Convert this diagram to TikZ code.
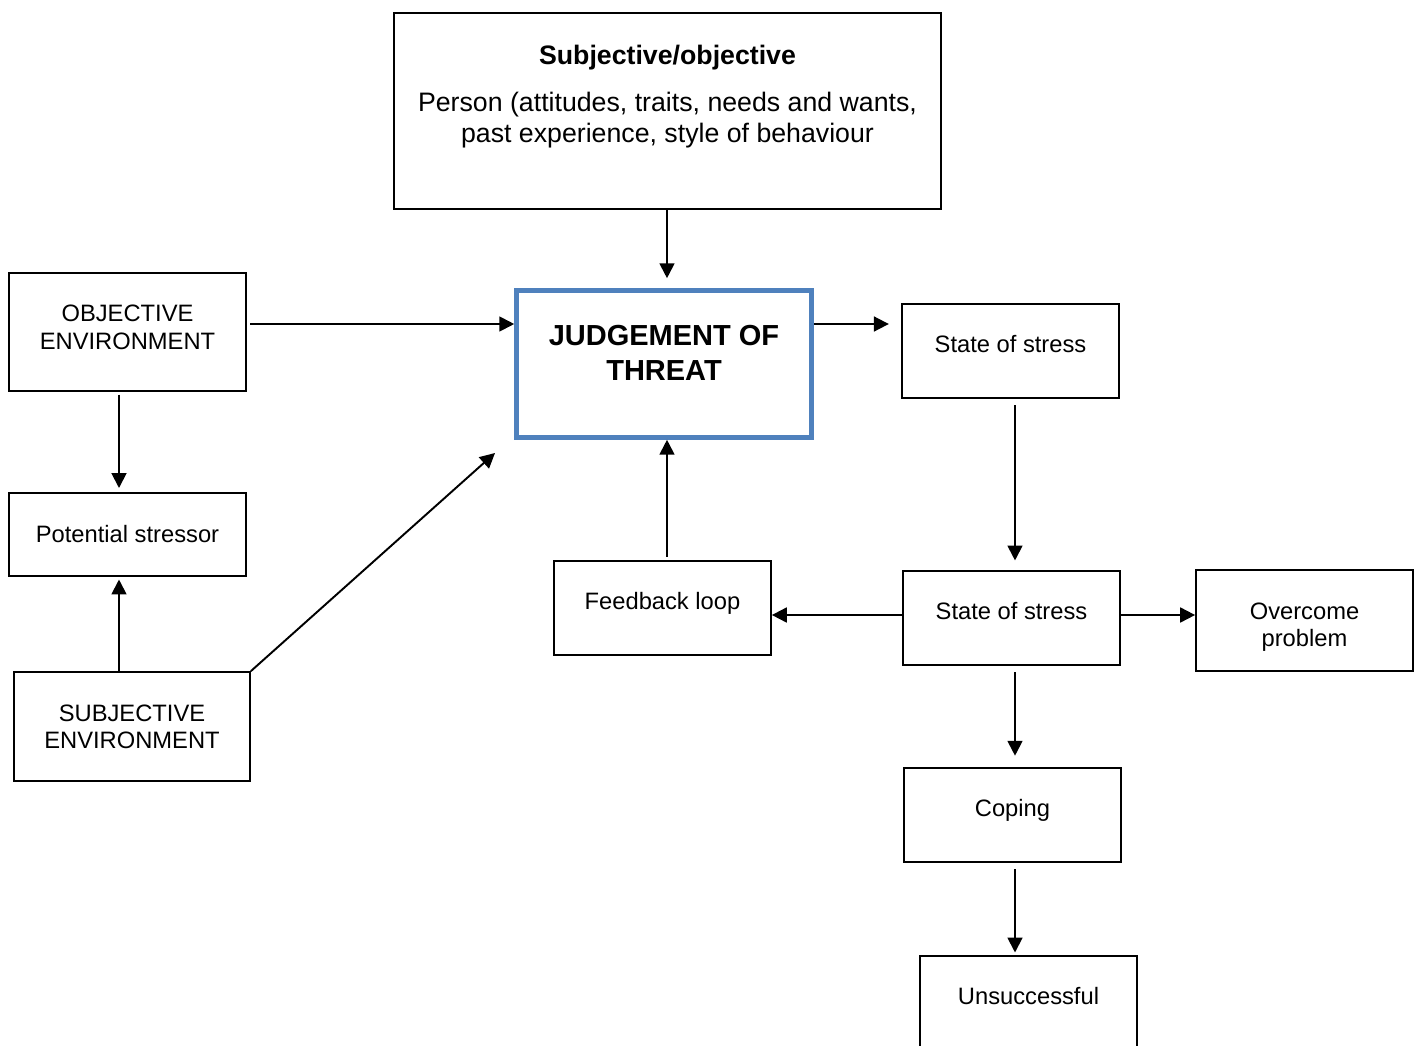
\documentclass[tikz,border=0pt]{standalone}
\usepackage{fontspec}
\setmainfont{Liberation Sans}
\usepackage{xcolor}
\usetikzlibrary{arrows.meta}
\definecolor{judgeblue}{RGB}{79,129,189}
\tikzset{
  box/.style={draw,line width=1pt,align=center,inner sep=2pt,
    font=\fontsize{13.5}{15.5}\selectfont},
  lift/.style={text height=10pt,text depth=8pt},
  arr/.style={line width=1.1pt,-{Triangle[length=8.5pt,width=8.5pt]}}
}

\begin{document}
\begin{tikzpicture}
\useasboundingbox (0,0) rectangle (28.42,-20.92);

% boxes
\node[box,minimum width=10.94cm,minimum height=3.92cm] (person) at (13.35,-2.22) {};
\node[align=center,anchor=north,font=\fontsize{15.2}{17.6}\selectfont] (persontxt) at (13.35,-0.78)
  {\textbf{Subjective/objective}\\[9pt]Person (attitudes, traits, needs and wants,\\past experience, style of behaviour};
\node[box,text depth=5.5pt,minimum width=4.74cm,minimum height=2.36cm] (objenv) at (2.55,-6.64) {OBJECTIVE\\ENVIRONMENT};
\node[box,draw=judgeblue,line width=2.6pt,minimum width=5.9cm,minimum height=2.94cm,
  font=\fontsize{16.5}{19.8}\selectfont\bfseries] (judge) at (13.28,-7.28) {JUDGEMENT OF\\THREAT\\[-7pt]};
\node[box,lift,minimum width=4.34cm,minimum height=1.88cm] (sos1) at (20.21,-7.02) {State of stress};
\node[box,minimum width=4.74cm,minimum height=1.66cm] (pot) at (2.55,-10.69) {Potential stressor};
\node[box,lift,minimum width=4.34cm,minimum height=1.88cm] (feed) at (13.25,-12.16) {Feedback loop};
\node[box,lift,minimum width=4.34cm,minimum height=1.88cm] (sos2) at (20.23,-12.36) {State of stress};
\node[box,minimum width=4.34cm,minimum height=2.02cm] (over) at (26.09,-12.41) {\rule{0pt}{17pt}Overcome\\problem};
\node[box,minimum width=4.72cm,minimum height=2.18cm] (subj) at (2.64,-14.53) {SUBJECTIVE\\ENVIRONMENT};
\node[box,lift,minimum width=4.34cm,minimum height=1.88cm] (coping) at (20.25,-16.30) {Coping};
\node[box,lift,minimum width=4.34cm,minimum height=1.88cm] (unsucc) at (20.57,-20.06) {Unsuccessful};

\coordinate (diagend) at (9.9,-9.06);

% arrows
\draw[arr,shorten >=7pt] (13.34,-4.18) -- (13.34,-5.81);
\draw[arr,shorten <=2pt] (objenv.east |- 0,-6.48) -- (judge.west |- 0,-6.48);
\draw[arr,shorten >=7pt] (judge.east |- 0,-6.48) -- (sos1.west |- 0,-6.48);
\draw[arr,shorten <=2pt] (2.38,-7.82) -- (2.38,-9.76);
\draw[arr,shorten >=2pt] (2.38,-13.44) -- (2.38,-11.52);
\draw[arr] (subj.north east) -- (diagend);
\draw[arr,shorten <=2pt] (feed.north -| 13.34,0) -- (judge.south -| 13.34,0);
\draw[arr,shorten <=4pt,shorten >=6pt] (20.3,-7.96) -- (20.3,-11.42);
\draw[arr] (sos2.west |- 0,-12.3) -- (feed.east |- 0,-12.3);
\draw[arr] (sos2.east |- 0,-12.3) -- (over.west |- 0,-12.3);
\draw[arr,shorten <=4pt,shorten >=7pt] (20.3,-13.30) -- (20.3,-15.36);
\draw[arr,shorten <=4pt,shorten >=2pt] (20.3,-17.24) -- (20.3,-19.12);
\end{tikzpicture}
\end{document}
